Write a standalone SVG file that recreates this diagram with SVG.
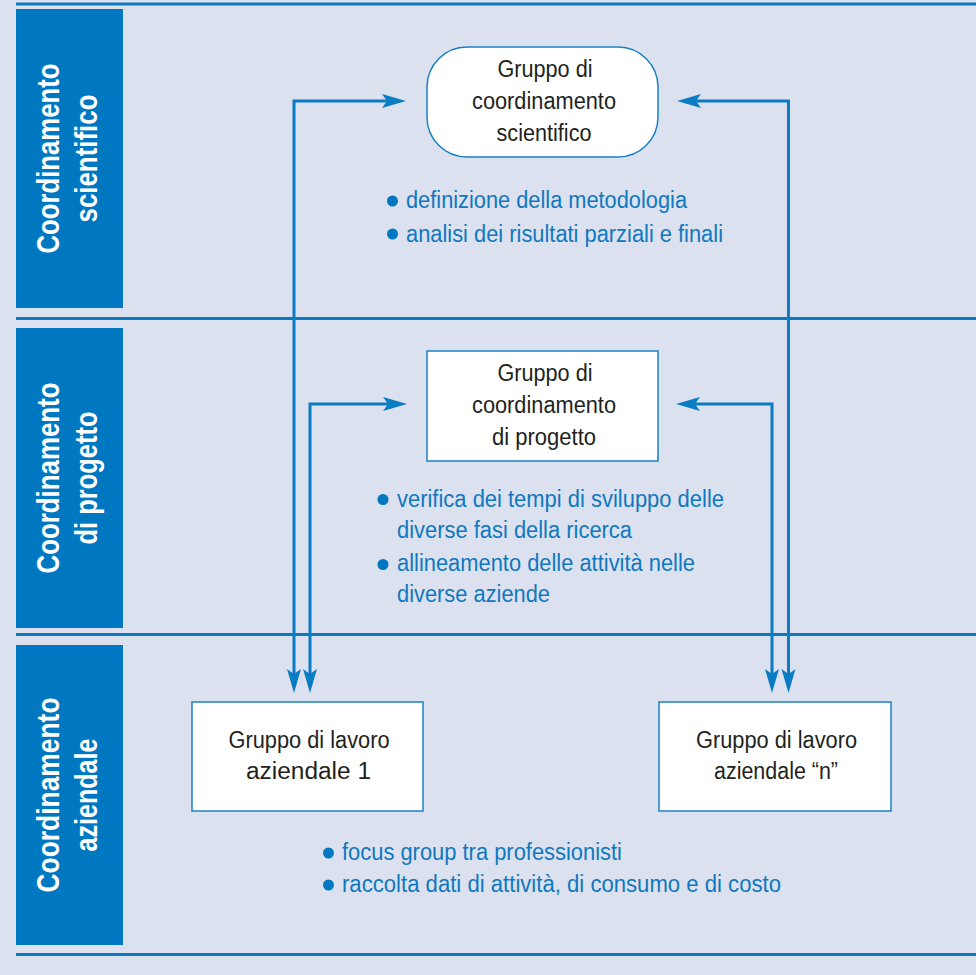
<svg xmlns="http://www.w3.org/2000/svg" width="976" height="975" viewBox="0 0 976 975">
  <style>
    .band { fill: #0077c1; }
    .sep { stroke: #0a79c2; stroke-width: 3; fill: none; }
    .lane { font-family: "Liberation Sans Narrow", "Liberation Sans", Arial, sans-serif; font-weight: bold; font-size: 32px; fill: #ffffff; text-anchor: middle; }
    .box { fill: #ffffff; stroke: #1a80c4; stroke-width: 1.5; }
    .label { font-family: "Liberation Sans Narrow", "Liberation Sans", Arial, sans-serif; font-size: 23px; fill: #231f20; text-anchor: middle; }
    .note { font-family: "Liberation Sans Narrow", "Liberation Sans", Arial, sans-serif; font-size: 23px; fill: #0f78bf; }
    .dot { fill: #0077c1; }
    .link { stroke: #0a7cc4; stroke-width: 3; fill: none; marker-start: url(#arrow); marker-end: url(#arrow); }
  </style>
  <defs>
    <marker id="arrow" markerUnits="userSpaceOnUse" viewBox="-20 -10 32 20" refX="0" refY="0" markerWidth="32" markerHeight="20" orient="auto-start-reverse">
      <path d="M8,0 L-16,-7 L-11,0 L-16,7 Z" fill="#0a7cc4"/>
    </marker>
  </defs>

  <!-- background -->
  <rect x="0" y="0" width="976" height="975" fill="#dbe1ef"/>

  <!-- lane separators -->
  <g id="separators">
    <line class="sep" x1="16" y1="4" x2="976" y2="4" stroke-width="2.5"/>
    <line class="sep" x1="16" y1="318.5" x2="976" y2="318.5"/>
    <line class="sep" x1="16" y1="634.5" x2="976" y2="634.5"/>
    <line class="sep" x1="16" y1="954.5" x2="976" y2="954.5"/>
  </g>

  <!-- lane headers -->
  <g id="lane-scientifico">
    <rect class="band" x="16" y="9" width="107" height="299"/>
    <text class="lane" transform="translate(58.5,158.5) rotate(-90)" textLength="190" lengthAdjust="spacingAndGlyphs">Coordinamento</text>
    <text class="lane" transform="translate(97,158.5) rotate(-90)" textLength="128" lengthAdjust="spacingAndGlyphs">scientifico</text>
  </g>
  <g id="lane-progetto">
    <rect class="band" x="16" y="328" width="107" height="300"/>
    <text class="lane" transform="translate(58.5,478) rotate(-90)" textLength="191" lengthAdjust="spacingAndGlyphs">Coordinamento</text>
    <text class="lane" transform="translate(97,478) rotate(-90)" textLength="133" lengthAdjust="spacingAndGlyphs">di progetto</text>
  </g>
  <g id="lane-aziendale">
    <rect class="band" x="16" y="645" width="107" height="300"/>
    <text class="lane" transform="translate(58.5,795) rotate(-90)" textLength="195" lengthAdjust="spacingAndGlyphs">Coordinamento</text>
    <text class="lane" transform="translate(97,795) rotate(-90)" textLength="113" lengthAdjust="spacingAndGlyphs">aziendale</text>
  </g>

  <!-- connectors -->
  <g id="connectors">
    <path class="link" d="M398,101 H294 V685"/>
    <path class="link" d="M399,404 H310 V685"/>
    <path class="link" d="M685,101 H788.5 V685"/>
    <path class="link" d="M684,404 H772 V685"/>
  </g>

  <!-- scientific coordination group -->
  <g id="node-scientifico">
    <rect class="box" x="427" y="47" width="231" height="110" rx="40" ry="40"/>
    <text class="label" x="545" y="77" textLength="95" lengthAdjust="spacingAndGlyphs">Gruppo di</text>
    <text class="label" x="544" y="109" textLength="144" lengthAdjust="spacingAndGlyphs">coordinamento</text>
    <text class="label" x="544" y="141" textLength="95" lengthAdjust="spacingAndGlyphs">scientifico</text>
  </g>
  <g id="notes-scientifico">
    <circle class="dot" cx="392.5" cy="201" r="5.5"/>
    <text class="note" x="406" y="207.5" textLength="281" lengthAdjust="spacingAndGlyphs">definizione della metodologia</text>
    <circle class="dot" cx="392.5" cy="234" r="5.5"/>
    <text class="note" x="406" y="241.5" textLength="317" lengthAdjust="spacingAndGlyphs">analisi dei risultati parziali e finali</text>
  </g>

  <!-- project coordination group -->
  <g id="node-progetto">
    <rect class="box" x="427" y="351" width="231" height="110"/>
    <text class="label" x="545" y="381" textLength="95" lengthAdjust="spacingAndGlyphs">Gruppo di</text>
    <text class="label" x="544" y="413" textLength="144" lengthAdjust="spacingAndGlyphs">coordinamento</text>
    <text class="label" x="544" y="445" textLength="104" lengthAdjust="spacingAndGlyphs">di progetto</text>
  </g>
  <g id="notes-progetto">
    <circle class="dot" cx="383" cy="499.5" r="5.5"/>
    <text class="note" x="397" y="506.5" textLength="327" lengthAdjust="spacingAndGlyphs">verifica dei tempi di sviluppo delle</text>
    <text class="note" x="397" y="538" textLength="235" lengthAdjust="spacingAndGlyphs">diverse fasi della ricerca</text>
    <circle class="dot" cx="383" cy="564.5" r="5.5"/>
    <text class="note" x="397" y="570.5" textLength="298" lengthAdjust="spacingAndGlyphs">allineamento delle attività nelle</text>
    <text class="note" x="397" y="601.5" textLength="153" lengthAdjust="spacingAndGlyphs">diverse aziende</text>
  </g>

  <!-- company working groups -->
  <g id="node-azienda-1">
    <rect class="box" x="192" y="702" width="231" height="109"/>
    <text class="label" x="309" y="748" textLength="161" lengthAdjust="spacingAndGlyphs">Gruppo di lavoro</text>
    <text class="label" x="308.5" y="779" textLength="125" lengthAdjust="spacingAndGlyphs">aziendale 1</text>
  </g>
  <g id="node-azienda-n">
    <rect class="box" x="659" y="702" width="232" height="109"/>
    <text class="label" x="776.5" y="748" textLength="161" lengthAdjust="spacingAndGlyphs">Gruppo di lavoro</text>
    <text class="label" x="776" y="779" textLength="124" lengthAdjust="spacingAndGlyphs">aziendale “n”</text>
  </g>
  <g id="notes-aziendale">
    <circle class="dot" cx="328.5" cy="853" r="5.5"/>
    <text class="note" x="342" y="859.5" textLength="280" lengthAdjust="spacingAndGlyphs">focus group tra professionisti</text>
    <circle class="dot" cx="328.5" cy="885" r="5.5"/>
    <text class="note" x="342" y="891.5" textLength="439" lengthAdjust="spacingAndGlyphs">raccolta dati di attività, di consumo e di costo</text>
  </g>
</svg>
